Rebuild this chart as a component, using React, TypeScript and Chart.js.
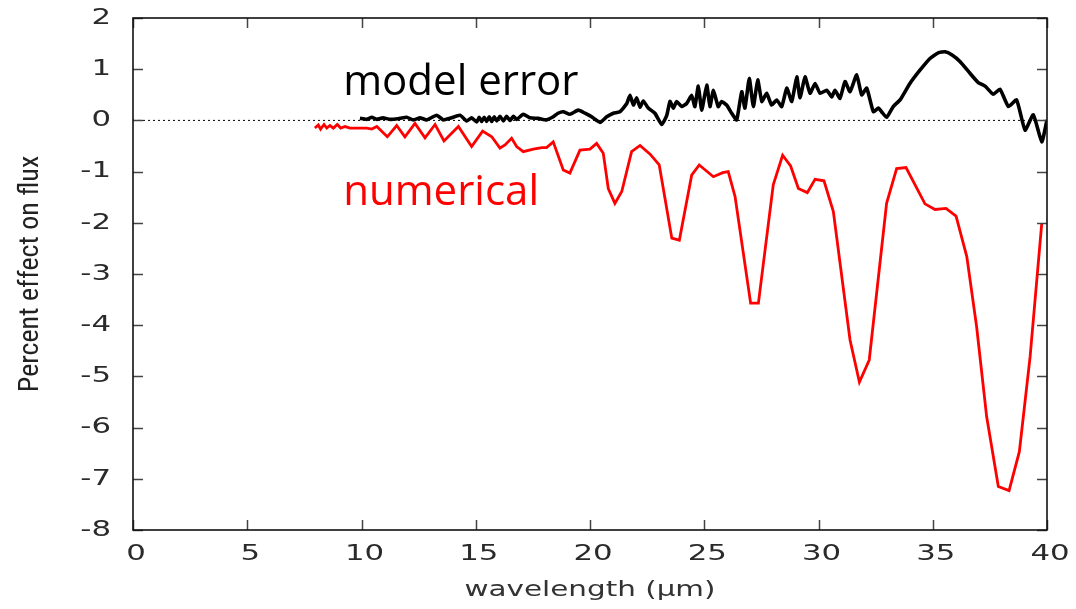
import React, { useEffect, useRef } from "react";
import { Chart, registerables } from "chart.js";

Chart.register(...registerables);

const xTicks = [0, 5, 10, 15, 20, 25, 30, 35, 40];
const yTicks = [2, 1, 0, -1, -2, -3, -4, -5, -6, -7, -8];

const numericalWavelength = [
  7.96, 8.11, 8.21, 8.36, 8.48, 8.62, 8.77, 8.94, 9.09, 9.28, 9.5, 10.23, 10.45, 10.67, 11.13, 11.54, 11.9, 12.34,
  12.78, 13.22, 13.61, 14.24, 14.82, 15.3, 15.7, 16.06, 16.28, 16.57, 16.79, 17.08, 17.52, 17.89, 18.1, 18.39,
  18.83, 19.12, 19.56, 20.0, 20.29, 20.58, 20.8, 21.09, 21.39, 21.82, 22.19, 22.63, 23.03, 23.58, 23.91, 24.45,
  24.78, 25.4, 25.81, 26.05, 26.35, 27.03, 27.37, 28.02, 28.43, 28.78, 29.12, 29.51, 29.85, 30.24, 30.65, 31.38,
  31.79, 32.22, 32.98, 33.42, 33.83, 34.66, 35.1, 35.58, 36.02, 36.49, 36.92, 37.36, 37.87, 38.34, 38.79, 39.26,
  39.77,
];
const numericalValues = [
  -0.15, -0.09, -0.17, -0.08, -0.15, -0.1, -0.15, -0.08, -0.15, -0.12, -0.15, -0.15, -0.17, -0.12, -0.32, -0.1,
  -0.32, -0.06, -0.34, -0.08, -0.4, -0.12, -0.51, -0.21, -0.32, -0.54, -0.48, -0.35, -0.51, -0.61, -0.56, -0.53,
  -0.53, -0.42, -0.97, -1.03, -0.58, -0.56, -0.45, -0.64, -1.33, -1.62, -1.39, -0.61, -0.49, -0.66, -0.87, -2.3,
  -2.34, -1.07, -0.87, -1.1, -1.02, -1.0, -1.49, -3.57, -3.57, -1.26, -0.68, -0.89, -1.33, -1.41, -1.15, -1.18,
  -1.78, -4.29, -5.11, -4.68, -1.62, -0.94, -0.92, -1.63, -1.74, -1.72, -1.87, -2.66, -4.03, -5.79, -7.15, -7.23,
  -6.47, -4.62, -2.01,
];

const errorWavelength = [
  9.93, 10.23, 10.45, 10.67, 10.94, 11.25, 11.68, 11.98, 12.27, 12.56, 12.85, 13.29, 13.58, 13.87, 14.31, 14.6,
  14.82, 15.04, 15.15, 15.26, 15.37, 15.48, 15.59, 15.7, 15.81, 15.92, 16.06, 16.21, 16.35, 16.5, 16.65, 16.79,
  17.08, 17.37, 17.74, 18.1, 18.39, 18.6, 18.83,
  19.12, 19.49, 19.78, 20.07, 20.44, 20.73, 21.02, 21.31, 21.61, 21.75, 21.9, 22.04, 22.19, 22.33, 22.55, 22.84,
  23.14, 23.36, 23.5, 23.65, 23.79, 24.01, 24.23, 24.45, 24.59, 24.74, 24.89, 25.11, 25.25, 25.4, 25.61, 25.76,
  25.98, 26.2, 26.42, 26.64, 26.78, 26.97, 27.15, 27.34, 27.52, 27.73, 27.95, 28.17, 28.39, 28.61, 28.83, 29.05,
  29.19, 29.41, 29.63, 29.85, 30.07, 30.36, 30.58, 30.72, 30.94, 31.16, 31.38, 31.67, 31.89, 32.11, 32.4, 32.62,
  32.76, 32.98, 33.27, 33.57, 34.0, 34.44, 34.88, 35.24, 35.54, 35.83, 36.19, 36.63, 36.99, 37.29, 37.65, 37.94,
  38.31, 38.67, 39.04, 39.4, 39.77, 40.0,
];
const errorValues = [
  0.04, 0.02, 0.06, 0.02, 0.05, 0.02, 0.04, 0.06, 0.01, 0.05, 0.01, 0.1, 0.01, 0.04, 0.1, -0.01,
  0.05, -0.03, 0.06, -0.02, 0.06, -0.02, 0.07, -0.02, 0.07, -0.01, 0.08, -0.01, 0.08, 0.0, 0.08, 0.02,
  0.12, 0.05, 0.04, 0.01, 0.07, 0.14, 0.17,
  0.12, 0.2, 0.14, 0.07, -0.04, 0.07, 0.14, 0.17, 0.33, 0.49, 0.3, 0.44, 0.26, 0.38, 0.24, 0.14,
  -0.08, 0.1, 0.37, 0.24, 0.37, 0.27, 0.33, 0.49, 0.27, 0.67, 0.2, 0.69, 0.27, 0.59, 0.27, 0.37,
  0.3, 0.14, 0.01, 0.56, 0.24, 0.82, 0.27, 0.79, 0.37, 0.53, 0.3, 0.4, 0.27, 0.63, 0.37, 0.85,
  0.44, 0.85, 0.53, 0.72, 0.53, 0.59, 0.46, 0.59, 0.43, 0.76, 0.56, 0.89, 0.5, 0.63, 0.17, 0.24,
  0.17, 0.06, 0.27, 0.4, 0.72, 0.98, 1.21, 1.32, 1.34, 1.28, 1.15, 0.92, 0.74, 0.67, 0.51, 0.61,
  0.27, 0.4, -0.19, 0.11, -0.42, 0.01,
];

const zeroLineX = [0, 40];
const zeroLineY = [0, 0];

const xTitle = "wavelength (µm)";
const yTitle = "Percent effect on flux";

const annotations = [
  { text: "model error", x: 9.2, y: 0.5, color: "#000000" },
  { text: "numerical", x: 9.2, y: -1.66, color: "#ff0000" },
];

const toPoints = (xs: number[], ys: number[]) => xs.map((x, i) => ({ x, y: ys[i] }));

const STRETCH = 1.4;
const tickFont = "22px 'DejaVu Sans', sans-serif";

function stretchedText(ctx: any, text: string, x: number, y: number, align: "left" | "center" | "right") {
  ctx.save();
  ctx.translate(x, y);
  ctx.scale(STRETCH, 1);
  ctx.textAlign = align;
  ctx.fillText(text, 0, 0);
  ctx.restore();
}

const framePlugin = {
  id: "frameTicks",
  afterDraw(chart: any) {
    const { ctx, chartArea, scales } = chart;
    const { left, right, top, bottom } = chartArea;
    ctx.save();
    ctx.strokeStyle = "#444444";
    ctx.lineWidth = 1.5;
    const len = 10;
    xTicks.forEach((v) => {
      const px = Math.round(scales.x.getPixelForValue(v)) + 0.5;
      ctx.beginPath();
      ctx.moveTo(px, bottom);
      ctx.lineTo(px, bottom - len);
      ctx.moveTo(px, top);
      ctx.lineTo(px, top + len);
      ctx.stroke();
    });
    yTicks.forEach((v) => {
      const py = Math.round(scales.y.getPixelForValue(v)) + 0.5;
      ctx.beginPath();
      ctx.moveTo(left, py);
      ctx.lineTo(left + len, py);
      ctx.moveTo(right, py);
      ctx.lineTo(right - len, py);
      ctx.stroke();
    });
    ctx.strokeStyle = "#111111";
    ctx.lineWidth = 1.6;
    ctx.strokeRect(left, top, right - left, bottom - top);

    // tick labels (stretched like the original export)
    ctx.fillStyle = "#2a2a2a";
    ctx.font = tickFont;
    ctx.textBaseline = "middle";
    xTicks.forEach((v) => {
      stretchedText(ctx, String(v), scales.x.getPixelForValue(v) + 3, bottom + 24, "center");
    });
    yTicks.forEach((v) => {
      stretchedText(ctx, String(v), left - 22, scales.y.getPixelForValue(v), "right");
    });
    ctx.font = "21px 'DejaVu Sans', sans-serif";
    ctx.fillStyle = "#333333";
    stretchedText(ctx, xTitle, (left + right) / 2, 591, "center");

    annotations.forEach((a) => {
      ctx.font = "42px 'Open Sans', 'Liberation Sans', sans-serif";
      ctx.fillStyle = a.color;
      ctx.textBaseline = "alphabetic";
      ctx.textAlign = "left";
      ctx.fillText(a.text, scales.x.getPixelForValue(a.x), scales.y.getPixelForValue(a.y));
    });
    ctx.restore();
  },
};

export default function App() {
  const canvasRef = useRef<HTMLCanvasElement | null>(null);

  useEffect(() => {
    if (!canvasRef.current) return;
    const chart = new Chart(canvasRef.current, {
      type: "line",
      data: {
        datasets: [
          {
            label: "zero",
            data: toPoints(zeroLineX, zeroLineY),
            borderColor: "#000000",
            borderWidth: 1,
            borderDash: [2, 3],
            pointRadius: 0,
            order: 3,
          },
          {
            label: "numerical",
            data: toPoints(numericalWavelength, numericalValues),
            borderColor: "#ff0000",
            borderWidth: 2.8,
            pointRadius: 0,
            tension: 0,
            order: 2,
          },
          {
            label: "model error",
            data: toPoints(errorWavelength, errorValues),
            borderColor: "#000000",
            borderWidth: 3.6,
            pointRadius: 0,
            tension: 0.15,
            order: 1,
          },
        ],
      },
      options: {
        animation: false,
        responsive: false,
        maintainAspectRatio: false,
        layout: { padding: { left: 0, right: 29, top: 18, bottom: 0 } },
        plugins: { legend: { display: false }, tooltip: { enabled: false } },
        scales: {
          x: {
            type: "linear",
            min: 0,
            max: 40,
            afterFit: (s: any) => {
              s.height = 79;
              s.paddingLeft = 0;
              s.paddingRight = 0;
            },
            afterBuildTicks: (s: any) => {
              s.ticks = xTicks.map((v) => ({ value: v }));
            },
            grid: { display: false, drawTicks: false },
            border: { display: false },
            ticks: { display: false },
            title: { display: false, text: xTitle },
          },
          y: {
            type: "linear",
            min: -8,
            max: 2,
            afterFit: (s: any) => {
              s.width = 133;
              s.paddingTop = 0;
              s.paddingBottom = 0;
            },
            afterBuildTicks: (s: any) => {
              s.ticks = yTicks.map((v) => ({ value: v }));
            },
            grid: { display: false, drawTicks: false },
            border: { display: false },
            ticks: { display: false },
            title: {
              display: true,
              text: yTitle,
              color: "#222222",
              font: { family: "'Liberation Sans Narrow', 'Roboto Condensed', 'Open Sans', sans-serif", size: 28 },
              padding: { top: 14, bottom: 0 },
            },
          },
        },
      },
      plugins: [framePlugin],
    });
    return () => chart.destroy();
  }, []);

  return (
    <div style={{ position: "fixed", left: 0, top: 0, width: 1076, height: 609, background: "#ffffff" }}>
      <canvas ref={canvasRef} width={1076} height={609} style={{ display: "block" }} />
    </div>
  );
}
